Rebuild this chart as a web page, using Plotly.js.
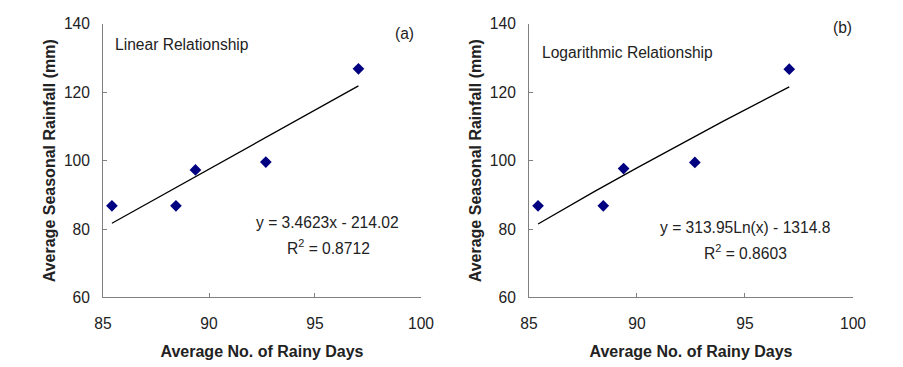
<!DOCTYPE html>
<html><head><meta charset="utf-8">
<script src="https://cdn.plot.ly/plotly-3.0.1.min.js"></script>
<style>html,body{margin:0;padding:0;background:#fff}#chart{width:903px;height:367px}</style>
</head><body><div id="chart"></div>
<script>
var rainyDaysA = [85.42, 88.44, 89.36, 92.68, 97.05];
var rainfallA  = [86.8, 86.8, 97.3, 99.6, 126.9];
var rainyDaysB = [85.42, 88.44, 89.38, 92.68, 97.05];
var rainfallB  = [86.8, 86.8, 97.7, 99.5, 126.8];
// Trend lines (as drawn)
var trendXA = [85.42, 97.05];
var trendYA = [81.7, 121.9];
var trendXB = [85.42, 88, 90, 92, 94, 97.05];
var trendYB = [81.5, 90.9, 97.9, 104.8, 111.6, 121.6];
var xTicks = [85, 90, 95, 100];
var yTicks = [60, 80, 100, 120, 140];
var xTitle = 'Average No. of Rainy Days';
var yTitle = 'Average Seasonal Rainfall (mm)';

var font = 'Liberation Sans, Arial, sans-serif';
var marker = {symbol: 'diamond', size: 9, color: '#000080'};
var traces = [
  {x: rainyDaysA, y: rainfallA, type: 'scatter', mode: 'markers', marker: marker, xaxis: 'x', yaxis: 'y', showlegend: false},
  {x: trendXA, y: trendYA, type: 'scatter', mode: 'lines', line: {color: '#000', width: 1.3}, xaxis: 'x', yaxis: 'y', showlegend: false},
  {x: rainyDaysB, y: rainfallB, type: 'scatter', mode: 'markers', marker: marker, xaxis: 'x2', yaxis: 'y2', showlegend: false},
  {x: trendXB, y: trendYB, type: 'scatter', mode: 'lines', line: {color: '#000', width: 1.3}, xaxis: 'x2', yaxis: 'y2', showlegend: false}
];
function xax(dom, anchor) {
  return {domain: dom, anchor: anchor, range: [85, 100], tickvals: xTicks, ticks: 'inside', ticklen: 4,
    tickcolor: '#808080', showline: true, linecolor: '#808080', linewidth: 1, showgrid: false, zeroline: false,
    tickfont: {family: font, size: 15.6, color: '#222'}, ticklabelstandoff: 12,
    title: {text: xTitle, font: {family: font, size: 16, color: '#222', weight: 'bold'}, standoff: 14}};
}
function yax(anchor) {
  return {domain: [0.1894, 0.9346], anchor: anchor, range: [60, 140], tickvals: yTicks, ticks: 'inside', ticklen: 4,
    tickcolor: '#808080', showline: true, linecolor: '#808080', linewidth: 1, showgrid: false, zeroline: false,
    tickfont: {family: font, size: 15.6, color: '#222'}, ticklabelstandoff: 9,
    title: {text: yTitle, font: {family: font, size: 16, color: '#222', weight: 'bold'}, standoff: 4}};
}
var tf = {family: font, size: 15.6, color: '#222'};
var layout = {
  width: 903, height: 367, margin: {l: 0, r: 0, t: 0, b: 0},
  paper_bgcolor: '#fff', plot_bgcolor: '#fff',
  xaxis: xax([0.1141, 0.4662], 'y'),
  yaxis: yax('x'),
  xaxis2: xax([0.5858, 0.9446], 'y2'),
  yaxis2: yax('x2'),
  annotations: [
    {xref: 'x', yref: 'y', x: 85.45, y: 134.1, xanchor: 'left', text: 'Linear Relationship', showarrow: false, font: tf},
    {xref: 'x', yref: 'y', x: 99.23, y: 137.1, text: '(a)', showarrow: false, font: tf},
    {xref: 'x', yref: 'y', x: 95.6, y: 81.8, text: 'y = 3.4623x - 214.02', showarrow: false, font: tf},
    {xref: 'x', yref: 'y', x: 95.65, y: 74.8, text: 'R<sup>2</sup> = 0.8712', showarrow: false, font: tf},
    {xref: 'x2', yref: 'y2', x: 85.5, y: 131.6, xanchor: 'left', text: 'Logarithmic Relationship', showarrow: false, font: tf},
    {xref: 'x2', yref: 'y2', x: 99.52, y: 139.0, text: '(b)', showarrow: false, font: tf},
    {xref: 'x2', yref: 'y2', x: 94.99, y: 80.6, text: 'y = 313.95Ln(x) - 1314.8', showarrow: false, font: tf},
    {xref: 'x2', yref: 'y2', x: 95.02, y: 73.4, text: 'R<sup>2</sup> = 0.8603', showarrow: false, font: tf}
  ]
};
Plotly.newPlot('chart', traces, layout, {displayModeBar: false, staticPlot: true});
</script>
</body></html>
